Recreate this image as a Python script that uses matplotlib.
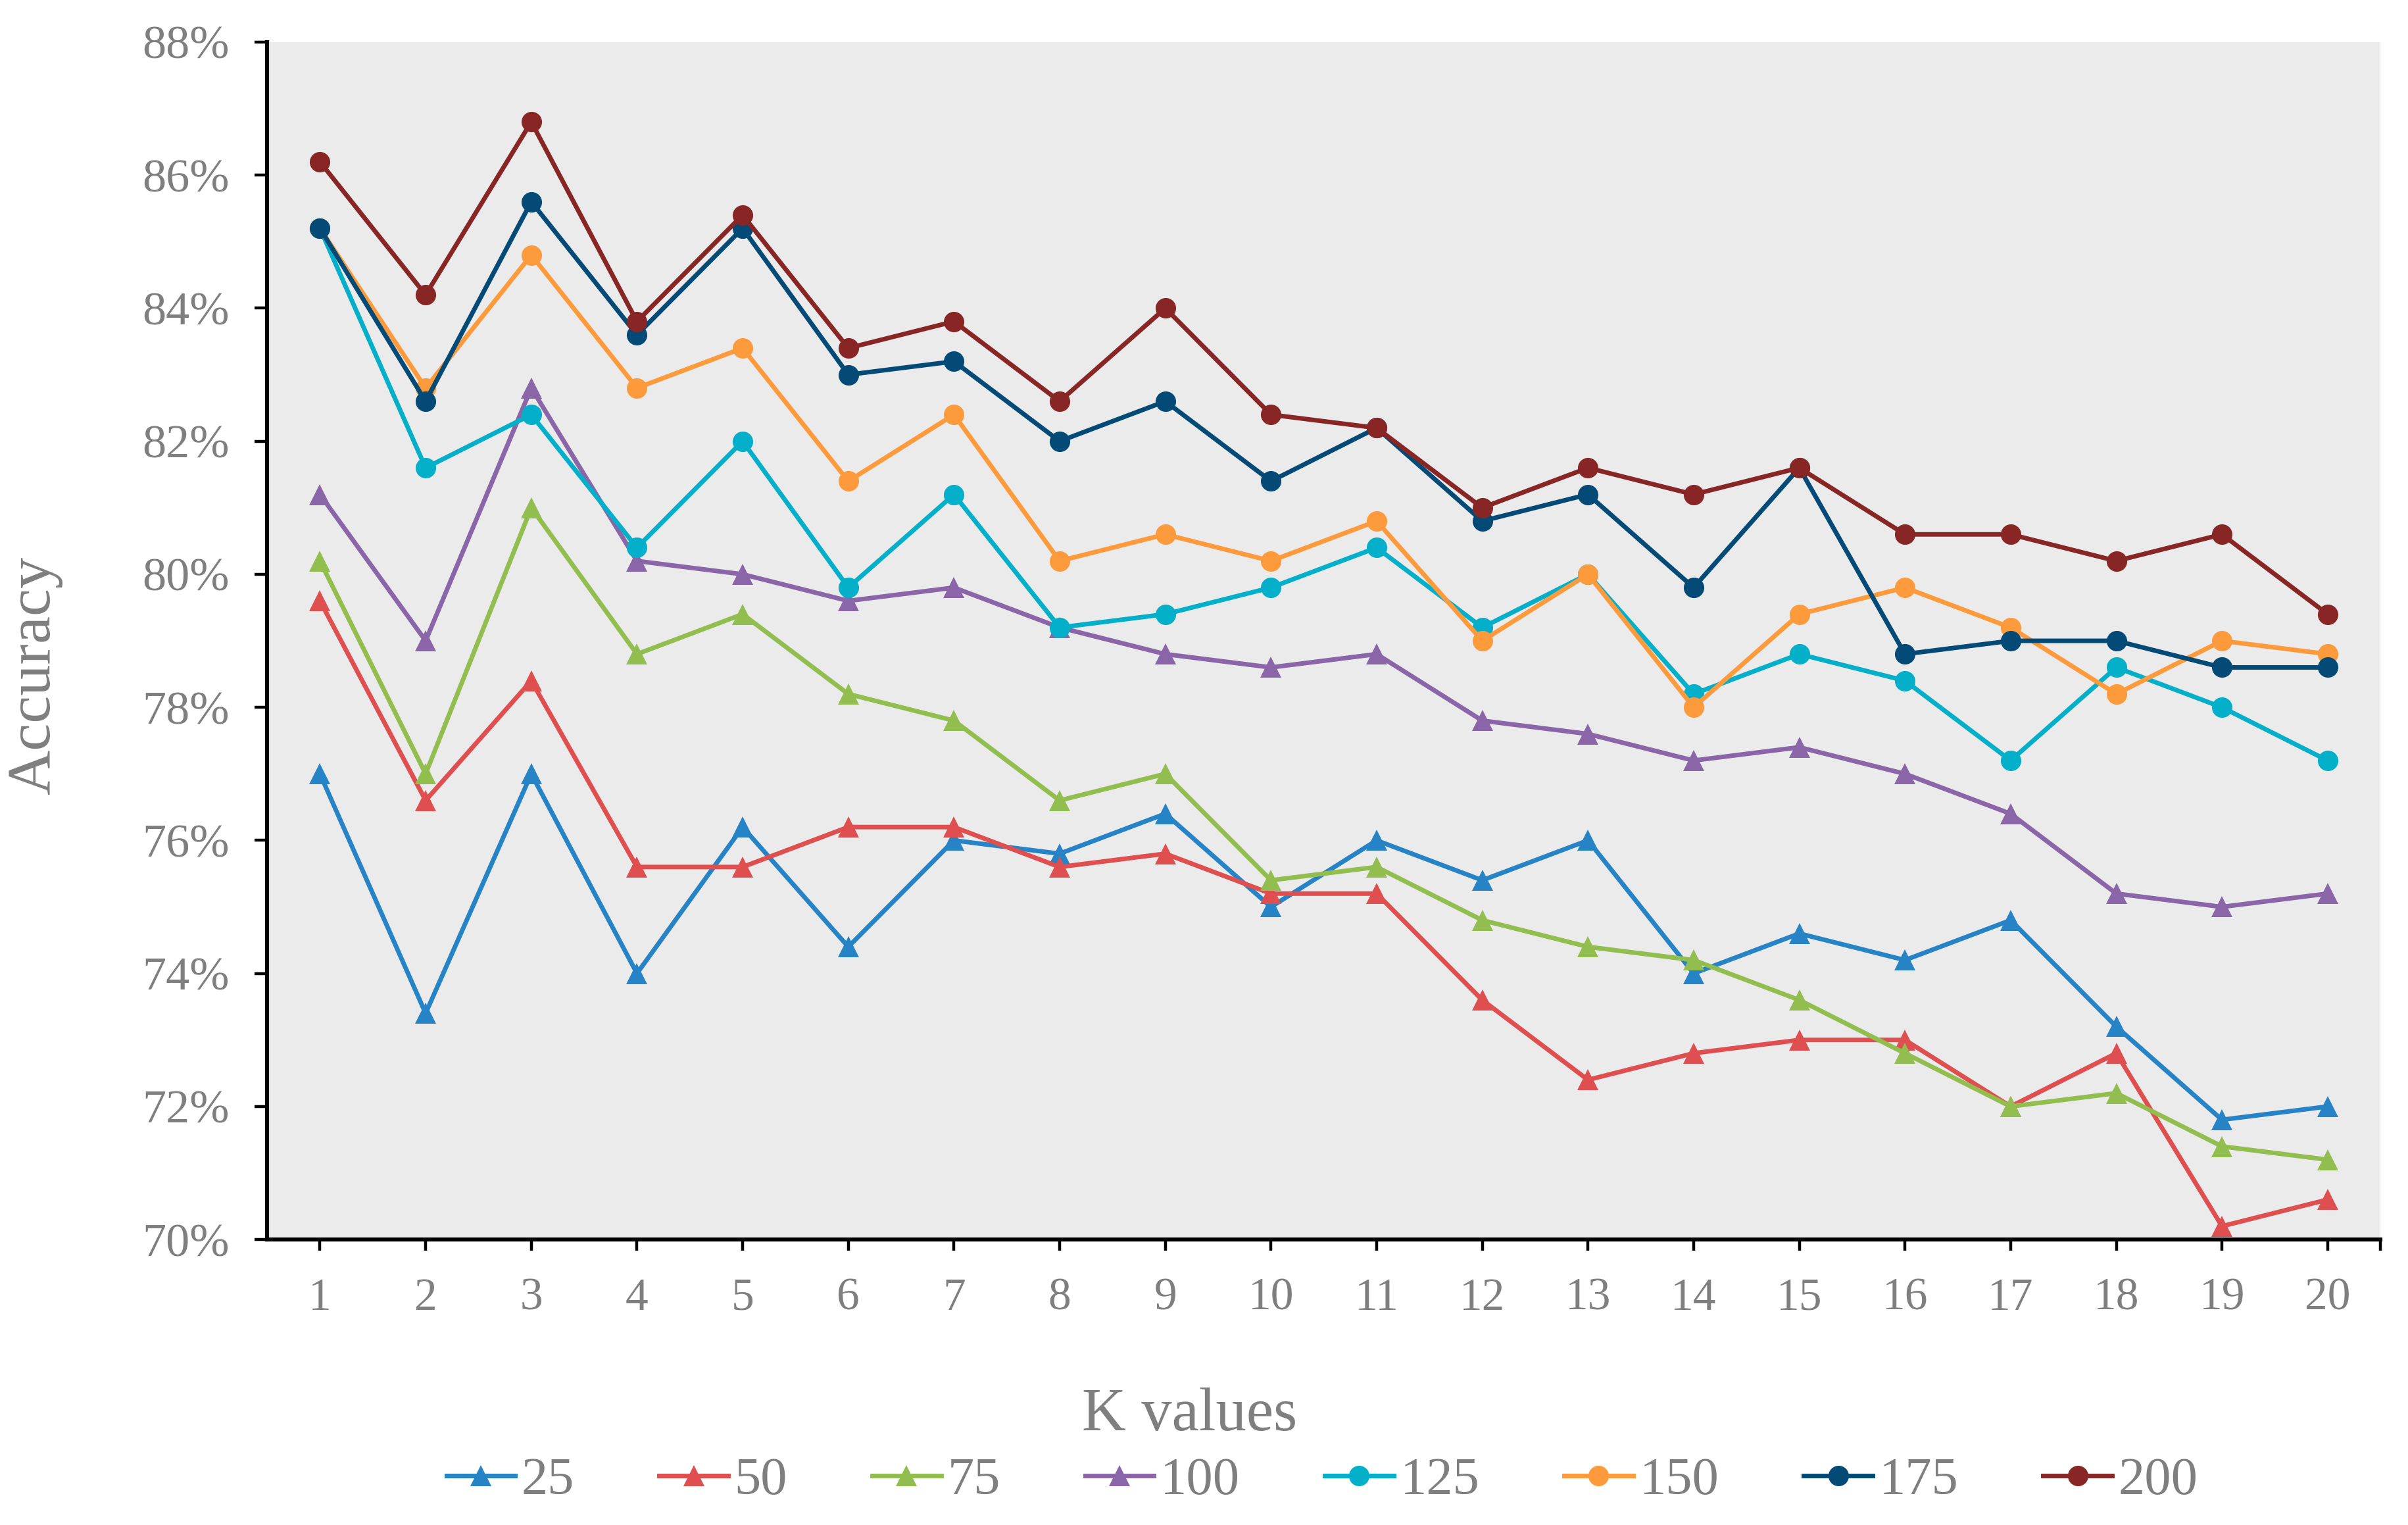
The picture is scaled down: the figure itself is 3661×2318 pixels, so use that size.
import matplotlib
matplotlib.use("Agg")
import matplotlib.pyplot as plt
from matplotlib.ticker import FuncFormatter, FixedLocator

k_values = list(range(1, 21))
series_names = ["25", "50", "75", "100", "125", "150", "175", "200"]

acc_25 = [77.0, 73.4, 77.0, 74.0, 76.2, 74.4, 76.0, 75.8, 76.4, 75.0,
          76.0, 75.4, 76.0, 74.0, 74.6, 74.2, 74.8, 73.2, 71.8, 72.0]
acc_50 = [79.6, 76.6, 78.4, 75.6, 75.6, 76.2, 76.2, 75.6, 75.8, 75.2,
          75.2, 73.6, 72.4, 72.8, 73.0, 73.0, 72.0, 72.8, 70.2, 70.6]
acc_75 = [80.2, 77.0, 81.0, 78.8, 79.4, 78.2, 77.8, 76.6, 77.0, 75.4,
          75.6, 74.8, 74.4, 74.2, 73.6, 72.8, 72.0, 72.2, 71.4, 71.2]
acc_100 = [81.2, 79.0, 82.8, 80.2, 80.0, 79.6, 79.8, 79.2, 78.8, 78.6,
           78.8, 77.8, 77.6, 77.2, 77.4, 77.0, 76.4, 75.2, 75.0, 75.2]
acc_125 = [85.2, 81.6, 82.4, 80.4, 82.0, 79.8, 81.2, 79.2, 79.4, 79.8,
           80.4, 79.2, 80.0, 78.2, 78.8, 78.4, 77.2, 78.6, 78.0, 77.2]
acc_150 = [85.2, 82.8, 84.8, 82.8, 83.4, 81.4, 82.4, 80.2, 80.6, 80.2,
           80.8, 79.0, 80.0, 78.0, 79.4, 79.8, 79.2, 78.2, 79.0, 78.8]
acc_175 = [85.2, 82.6, 85.6, 83.6, 85.2, 83.0, 83.2, 82.0, 82.6, 81.4,
           82.2, 80.8, 81.2, 79.8, 81.6, 78.8, 79.0, 79.0, 78.6, 78.6]
acc_200 = [86.2, 84.2, 86.8, 83.8, 85.4, 83.4, 83.8, 82.6, 84.0, 82.4,
           82.2, 81.0, 81.6, 81.2, 81.6, 80.6, 80.6, 80.2, 80.6, 79.4]

all_series = [acc_25, acc_50, acc_75, acc_100, acc_125, acc_150, acc_175, acc_200]
colors = ["#2683c6", "#e04f4f", "#92bd4f", "#8a65a8",
          "#03afc9", "#fd9b3c", "#034a76", "#882626"]
markers = ["^", "^", "^", "^", "o", "o", "o", "o"]

y_ticks = [70, 72, 74, 76, 78, 80, 82, 84, 86, 88]

FONT = "Liberation Serif"
GRAY = "#7f7f7f"

fig = plt.figure(figsize=(18.31, 11.59), dpi=200)
ax = fig.add_axes([0.1109, 0.1872, 0.9883 - 0.1109, 0.9724 - 0.1872])
ax.set_facecolor("#ebebeb")

for name, vals, c, m in zip(series_names, all_series, colors, markers):
    ax.plot(k_values, vals, color=c, marker=m, markersize=11.2, linewidth=2.5,
            label=name, markeredgewidth=0, clip_on=False)

ax.set_xlim(0.5, 20.5)
ax.set_ylim(70, 88)
ax.set_yticks(y_ticks)
ax.yaxis.set_major_formatter(FuncFormatter(lambda v, p: f"{v:.0f}%"))
ax.set_xticks(k_values)
ax.xaxis.set_minor_locator(FixedLocator([20.5]))

for s in ["top", "right"]:
    ax.spines[s].set_visible(False)
for s in ["left", "bottom"]:
    ax.spines[s].set_linewidth(2.2)
    ax.spines[s].set_color("black")

ax.tick_params(axis="y", which="major", direction="out", length=7, width=1.6,
               labelsize=26, labelcolor=GRAY, pad=13.5)
ax.tick_params(axis="x", which="both", direction="out", length=6, width=1.6,
               labelsize=25, labelcolor=GRAY, pad=15)
for lab in ax.get_xticklabels() + ax.get_yticklabels():
    lab.set_fontfamily(FONT)

fig.text(0.494, 1 - 2174 / 2318, "K values", ha="center", va="baseline",
         fontsize=33.4, color=GRAY, fontfamily=FONT)
fig.text(0.0145, 1 - 1027 / 2318, "Accuracy", ha="center", va="center", rotation=90,
         fontsize=34, color=GRAY, fontfamily=FONT)

handles, labels = ax.get_legend_handles_labels()
leg = fig.legend(handles, labels, loc="center", bbox_to_anchor=(0.5489, 0.0289),
                 ncol=8, frameon=False, handlelength=1.3, handletextpad=0.12,
                 columnspacing=1.6, prop={"family": FONT, "size": 29})
for t in leg.get_texts():
    t.set_color(GRAY)

fig.savefig("out.png", dpi=200)
